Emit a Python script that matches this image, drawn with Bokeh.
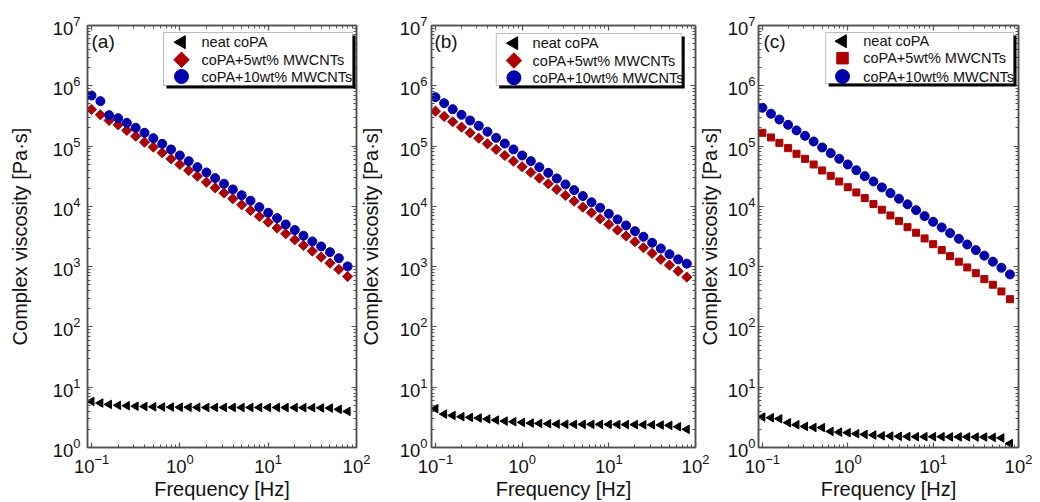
import math
from bokeh.plotting import figure
from bokeh.models import (Range1d, LogAxis, FixedTicker, CustomJSTickFormatter,
                          BoxAnnotation, Label, LinearScale)
from bokeh.layouts import row
from bokeh.embed import file_html
from bokeh.resources import INLINE

# ---------------- data ----------------
freq = [0.1, 0.126, 0.158, 0.2, 0.251, 0.316, 0.398, 0.501, 0.631, 0.794,
        1.0, 1.26, 1.58, 2.0, 2.51, 3.16, 3.98, 5.01, 6.31, 7.94,
        10.0, 12.6, 15.8, 20.0, 25.1, 31.6, 39.8, 50.1, 63.1, 79.4]

series_labels = ["neat coPA", "coPA+5wt% MWCNTs", "coPA+10wt% MWCNTs"]
panel_tags = ["(a)", "(b)", "(c)"]

a_neat = [5.82, 5.46, 5.19, 5.01, 4.93, 4.84, 4.79, 4.73, 4.70, 4.68,
          4.66, 4.65, 4.63, 4.62, 4.62, 4.62, 4.62, 4.61, 4.62, 4.62,
          4.61, 4.61, 4.60, 4.59, 4.58, 4.57, 4.54, 4.50, 4.29, 3.97]
a_5wt = [405000, 330000, 266000, 225000, 182000, 146000, 116000, 96200, 77400, 61500,
         49500, 39400, 31700, 25200, 20300, 16600, 13400, 10600, 8550, 6810,
         5470, 4360, 3510, 2790, 2250, 1810, 1440, 1140, 900, 687]
a_10wt = [690000, 556000, 326000, 290000, 243000, 201000, 166000, 135000, 109000, 87900,
          69800, 56200, 44700, 36500, 29400, 23700, 19100, 15300, 12400, 9710,
          7830, 6380, 5010, 4040, 3260, 2620, 2160, 1740, 1380, 1010]

b_neat = [4.40, 3.58, 3.40, 3.24, 3.16, 3.08, 2.96, 2.85, 2.74, 2.68,
          2.61, 2.54, 2.51, 2.48, 2.45, 2.43, 2.42, 2.42, 2.42, 2.42,
          2.42, 2.41, 2.40, 2.40, 2.39, 2.38, 2.36, 2.33, 2.21, 2.00]
b_5wt = [379000, 310000, 253000, 206000, 166000, 135000, 109000, 87900, 69800, 56200,
         45400, 36500, 29400, 23700, 19100, 15200, 12200, 9710, 7830, 6220,
         5010, 4040, 3210, 2590, 2060, 1660, 1320, 1060, 841, 670]
b_10wt = [647000, 515000, 409000, 330000, 266000, 217000, 173000, 137000, 110000, 87900,
          69800, 56200, 44700, 36000, 29000, 23100, 18600, 14800, 11700, 9480,
          7530, 6070, 4820, 3880, 3130, 2490, 2000, 1610, 1320, 1120]

c_neat = [3.20, 3.12, 3.00, 2.58, 2.39, 2.24, 2.15, 2.14, 1.85, 1.80,
          1.76, 1.69, 1.65, 1.61, 1.56, 1.55, 1.53, 1.52, 1.51, 1.51,
          1.51, 1.51, 1.50, 1.50, 1.50, 1.49, 1.49, 1.47, 1.44, 1.16]
c_5wt = [166000, 139000, 113000, 92500, 74500, 61500, 49500, 39400, 32100, 25900,
         20800, 17000, 13700, 10900, 8790, 7060, 5690, 4520, 3650, 2940,
         2360, 1880, 1490, 1210, 971, 780, 621, 501, 388, 289]
c_10wt = [432000, 344000, 276000, 225000, 182000, 148000, 119000, 94800, 76400, 61500,
          49500, 39800, 31700, 25900, 20600, 16600, 13400, 10800, 8650, 6890,
          5550, 4470, 3600, 2900, 2330, 1880, 1520, 1210, 959, 743]

x_major = [0.1, 1, 10, 100]
y_major = [1, 10, 100, 1e3, 1e4, 1e5, 1e6, 1e7]

# ---------------- style ----------------
FONT = "Liberation Sans"
AXIS_C = "#505050"
TEXT_C = "#111111"
RED = "#b00000"
BLUE = "#0000b0"
TOP, BOTTOM = 25, 55
FRAME_H = 422
H = TOP + FRAME_H + BOTTOM
FT = 25  # frame top in page coordinates

x_minor = [m * d for d in (0.1, 1, 10) for m in range(2, 10)]
y_minor = [m * 10 ** k for k in range(7) for m in range(2, 10)]

# layout specs in page pixels (reference picture coordinates)
specs = [
    dict(L=87, R=18, fw=269, ml=0, fl=87, ystd=7, als=19, tdx=4,
         box=(163, 32, 352, 85), cx=181, tx=201, rows=(41.7, 59.3, 76.0), mid="diamond"),
    dict(L=70, R=18, fw=269, ml=-18, fl=426, ystd=4, als=15, tdx=3,
         box=(492, 33, 681, 85), cx=510, tx=529, rows=(42.7, 60.0, 77.3), mid="diamond"),
    dict(L=60, R=14, fw=263, ml=-18, fl=755, ystd=3, als=4, tdx=5,
         box=(823, 32, 1013, 83), cx=840, tx=861, rows=(40.7, 57.7, 76.0), mid="square"),
]
datasets = [(a_neat, a_5wt, a_10wt), (b_neat, b_5wt, b_10wt), (c_neat, c_5wt, c_10wt)]


def style_axis(ax, standoff, als, blank=False):
    ax.axis_line_color = AXIS_C
    ax.axis_line_width = 1.5
    ax.major_tick_line_color = AXIS_C
    ax.minor_tick_line_color = AXIS_C
    ax.major_tick_line_width = 1.2
    ax.minor_tick_line_width = 1
    ax.major_tick_in = 5
    ax.major_tick_out = 0
    ax.minor_tick_in = 3
    ax.minor_tick_out = 0
    ax.major_label_standoff = standoff
    ax.major_label_text_font = FONT
    ax.major_label_text_font_size = "8px" if blank else "18.5px"
    ax.major_label_text_color = TEXT_C
    ax.axis_label_text_font = FONT
    ax.axis_label_text_font_size = "20px"
    ax.axis_label_text_font_style = "normal"
    ax.axis_label_text_color = TEXT_C
    ax.axis_label_standoff = als


def make_panel(i):
    s = specs[i]
    neat, mid, high = datasets[i]
    W = s["L"] + s["fw"] + s["R"]
    p = figure(width=W, height=H, x_axis_type="log", y_axis_type="log",
               x_range=Range1d(0.09, 100), y_range=Range1d(1, 1e7),
               output_backend="svg", toolbar_location=None,
               min_border_left=s["L"], min_border_right=s["R"],
               min_border_top=TOP, min_border_bottom=BOTTOM,
               border_fill_color=None, background_fill_color=None,
               outline_line_color=AXIS_C, outline_line_width=1.5,
               margin=(0, 0, 0, s["ml"]))
    # pixel coordinate system of the frame (origin top-left) for the legend
    p.extra_x_ranges = {"px": Range1d(0, s["fw"])}
    p.extra_y_ranges = {"px": Range1d(FRAME_H, 0)}
    p.extra_x_scales = {"px": LinearScale()}
    p.extra_y_scales = {"px": LinearScale()}
    p.grid.visible = False

    xa = p.xaxis[0]
    ya = p.yaxis[0]
    xa.ticker = FixedTicker(ticks=x_major, minor_ticks=x_minor)
    ya.ticker = FixedTicker(ticks=y_major, minor_ticks=y_minor)
    style_axis(xa, 6, 2)
    style_axis(ya, s["ystd"], s["als"])
    xa.axis_label = "Frequency [Hz]"
    ya.axis_label = "Complex viscosity [Pa·s]"

    top = LogAxis(ticker=FixedTicker(ticks=x_major, minor_ticks=x_minor),
                  formatter=CustomJSTickFormatter(code="return ''"))
    style_axis(top, 0, 0, blank=True)
    p.add_layout(top, "above")
    right = LogAxis(ticker=FixedTicker(ticks=y_major, minor_ticks=y_minor),
                    formatter=CustomJSTickFormatter(code="return ''"))
    style_axis(right, 0, 0, blank=True)
    p.add_layout(right, "right")

    # data
    p.scatter(freq, neat, marker="triangle", angle=math.pi / 2, size=8.5,
              fill_color="black", line_color="black")
    if s["mid"] == "diamond":
        p.scatter(freq, mid, marker="square", angle=math.pi / 4, size=7.2,
                  fill_color=RED, line_color=RED)
    else:
        p.scatter(freq, mid, marker="square", size=7,
                  fill_color=RED, line_color=RED)
    p.scatter(freq, high, marker="circle", size=9, fill_color=BLUE, line_color=BLUE)

    # legend: frame with drop shadow, markers and labels
    fl = s["fl"]
    bx0, by0, bx1, by1 = [v - o for v, o in zip(s["box"], (fl, FT, fl, FT))]
    sh = 3
    p.add_layout(BoxAnnotation(left=bx0 + sh, right=bx1 + sh, top=by0 + sh, bottom=by1 + sh,
                               x_range_name="px", y_range_name="px",
                               fill_color="black", fill_alpha=1, line_color=None))
    p.add_layout(BoxAnnotation(left=bx0, right=bx1, top=by0, bottom=by1,
                               x_range_name="px", y_range_name="px",
                               fill_color="white", fill_alpha=1,
                               line_color="#222222", line_width=1))
    cx = s["cx"] - fl
    tx = s["tx"] - fl
    ry = [r - FT for r in s["rows"]]
    p.scatter([cx], [ry[0]], marker="triangle", angle=math.pi / 2, size=13,
              fill_color="black", line_color="black",
              x_range_name="px", y_range_name="px", level="overlay")
    if s["mid"] == "diamond":
        p.scatter([cx], [ry[1]], marker="square", angle=math.pi / 4, size=11,
                  fill_color=RED, line_color=RED,
                  x_range_name="px", y_range_name="px", level="overlay")
    else:
        p.scatter([cx], [ry[1]], marker="square", size=11.5,
                  fill_color=RED, line_color=RED,
                  x_range_name="px", y_range_name="px", level="overlay")
    p.scatter([cx], [ry[2]], marker="circle", size=14,
              fill_color=BLUE, line_color=BLUE,
              x_range_name="px", y_range_name="px", level="overlay")
    for lab, y in zip(series_labels, ry):
        p.add_layout(Label(x=tx, y=y, x_range_name="px", y_range_name="px",
                           text=lab, text_baseline="middle", text_align="left",
                           text_font=FONT, text_font_size="14.5px", text_color=TEXT_C))

    p.add_layout(Label(x=s["tdx"], y=5, x_range_name="px", y_range_name="px",
                       text=panel_tags[i], text_baseline="top", text_font=FONT,
                       text_font_size="19px", text_color=TEXT_C))
    return p


panels = [make_panel(i) for i in range(3)]
layout = row(*panels)
open("out.html", "w").write(file_html(layout, INLINE))
